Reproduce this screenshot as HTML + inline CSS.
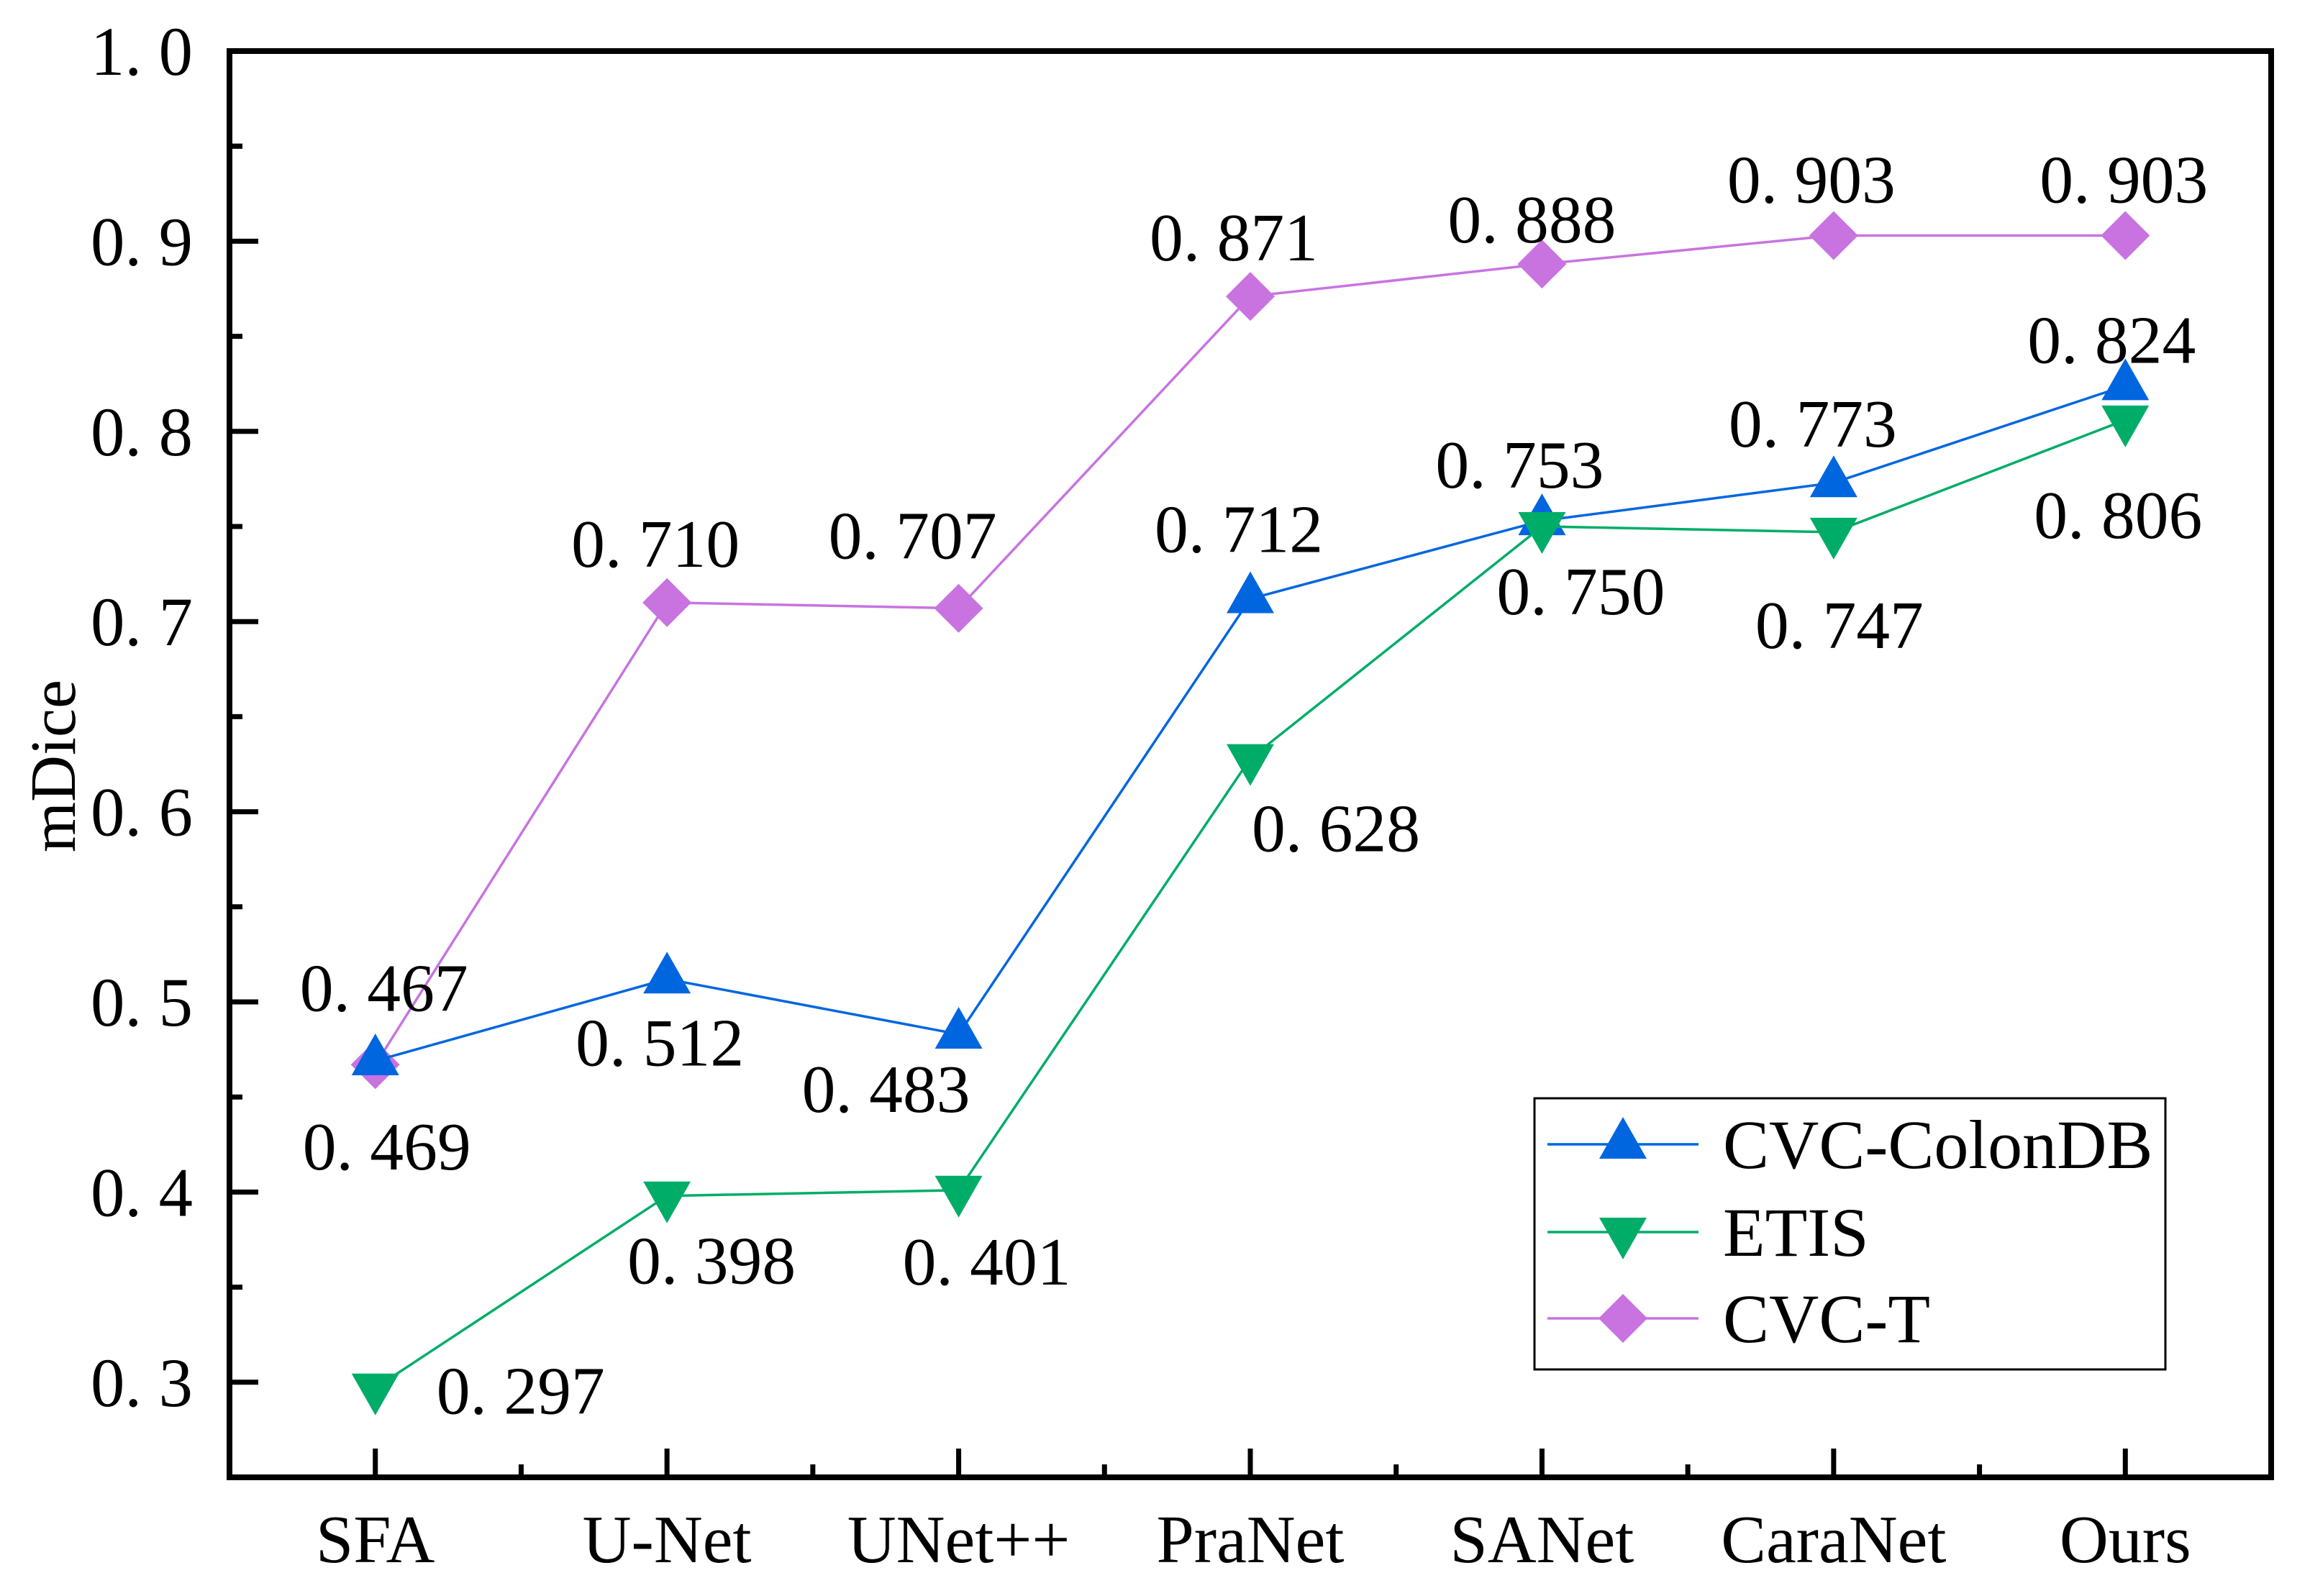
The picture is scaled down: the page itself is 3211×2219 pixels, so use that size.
<!DOCTYPE html>
<html><head><meta charset="utf-8"><style>
html,body{margin:0;padding:0;background:#fff;}
svg{display:block;}
text{font-family:"Liberation Serif","Noto Serif CJK SC",serif;fill:#000;}
</style></head><body>
<svg id="chart" width="3211" height="2219" viewBox="0 0 3211 2219" xmlns="http://www.w3.org/2000/svg">
<g id="plot"></g>
</svg>
<script>
const categories = ["SFA","U-Net","UNet++","PraNet","SANet","CaraNet","Ours"];
const colonDB = [0.469,0.512,0.483,0.712,0.753,0.773,0.824];
const etis = [0.297,0.398,0.401,0.628,0.750,0.747,0.806];
const cvcT = [0.467,0.710,0.707,0.871,0.888,0.903,0.903];
const colonDBLabels = ["0. 469","0. 512","0. 483","0. 712","0. 753","0. 773","0. 824"];
const etisLabels = ["0. 297","0. 398","0. 401","0. 628","0. 750","0. 747","0. 806"];
const cvcTLabels = ["0. 467","0. 710","0. 707","0. 871","0. 888","0. 903","0. 903"];
const yTicks = [0.3,0.4,0.5,0.6,0.7,0.8,0.9,1.0];
const yTickLabels = ["0. 3","0. 4","0. 5","0. 6","0. 7","0. 8","0. 9","1. 0"];

const L=319,R=3157,T=71,B=2054,Y0=0.25,Y1=1.0;
const step=(R-L)/categories.length;
function xPos(i){return L+step*(i+0.5);}
function yPos(v){return B-(v-Y0)/(Y1-Y0)*(B-T);}
const NS="http://www.w3.org/2000/svg";
const g=document.getElementById('plot');
function mk(tag,attrs,parent){const e=document.createElementNS(NS,tag);for(const k in attrs)e.setAttribute(k,attrs[k]);(parent||g).appendChild(e);return e;}

// label offsets (layout only)
const offB=[[16,119],[-10,88],[-101,76],[-16,-97],[-31,-78],[-29,-82],[-19,-64]];
const offE=[[202,4],[62,90],[39,99],[119,97],[54,90],[8,129],[-10,132]];
const offP=[[12,-107],[-16,-82],[-64,-101],[-23,-82],[-14,-62],[-31,-78],[-2,-78]];

function marker(type,cx,cy,color,name){
  let e;
  if(type==='up') e=mk('polygon',{points:`${cx},${cy-38} ${cx-33},${cy+20} ${cx+33},${cy+20}`,fill:color});
  else if(type==='down') e=mk('polygon',{points:`${cx},${cy+38} ${cx-33},${cy-20} ${cx+33},${cy-20}`,fill:color});
  else e=mk('polygon',{points:`${cx},${cy-34} ${cx+34},${cy} ${cx},${cy+34} ${cx-34},${cy}`,fill:color});
  
  
  return e;
}
function series(vals,labels,offs,color,type,key){
  const pts=vals.map((v,i)=>xPos(i)+','+yPos(v)).join(' ');
  const pl=mk('polyline',{points:pts,fill:'none',stroke:color,'stroke-width':3.5});
  
  
  vals.forEach((v,i)=>{marker(type,xPos(i),yPos(v),color,key+'-point-'+i);});
  vals.forEach((v,i)=>{
    const t=mk('text',{x:xPos(i)+offs[i][0],y:yPos(v)+offs[i][1]+32,'text-anchor':'middle','font-size':94,textLength:234,lengthAdjust:'spacingAndGlyphs'});
    t.textContent=labels[i];
    
    
  });
}
series(cvcT,cvcTLabels,offP,'#c873e0','diamond','cvc-t');
series(colonDB,colonDBLabels,offB,'#0066e0','up','cvc-colondb');
series(etis,etisLabels,offE,'#00ad68','down','etis');

// axes frame
const fr=mk('rect',{x:L,y:T,width:R-L,height:B-T,fill:'none',stroke:'#000','stroke-width':8});


// y ticks
yTicks.forEach((v,i)=>{
  const y=yPos(v);
  const tk=mk('line',{x1:L,x2:L+40,y1:y,y2:y,stroke:'#000','stroke-width':7});
  
  
  const m=mk('line',{x1:L,x2:L+18,y1:yPos(v-0.05),y2:yPos(v-0.05),stroke:'#000','stroke-width':7});
  
  
  const t=mk('text',{x:268,y:y+33,'text-anchor':'end','font-size':96,textLength:142,lengthAdjust:'spacingAndGlyphs'});
  t.textContent=yTickLabels[i];
  
  
});
{const m=mk('line',{x1:L,x2:L+18,y1:yPos(0.95),y2:yPos(0.95),stroke:'#000','stroke-width':7});

}
// x ticks
categories.forEach((c,i)=>{
  const x=xPos(i);
  const tk=mk('line',{x1:x,x2:x,y1:B,y2:B-40,stroke:'#000','stroke-width':7});
  
  
  if(i>0){const m=mk('line',{x1:x-step/2,x2:x-step/2,y1:B,y2:B-18,stroke:'#000','stroke-width':7});
  
  }
  const t=mk('text',{x:x,y:2172,'text-anchor':'middle','font-size':94});
  t.textContent=c;
  
  
});
// y title
const yt=mk('text',{x:0,y:0,'text-anchor':'middle','font-size':90,transform:'translate(104,1065) rotate(-90)'});
yt.textContent='mDice';



// legend
const lg=mk('g',{});


const lb=mk('rect',{x:2133,y:1527,width:877,height:377,fill:'#fff',stroke:'#000','stroke-width':3},lg);


const legItems=[['CVC-ColonDB','#0066e0','up',1591],['ETIS','#00ad68','down',1713],['CVC-T','#c873e0','diamond',1833]];
legItems.forEach(it=>{
  const ln=mk('line',{x1:2151,x2:2361,y1:it[3],y2:it[3],stroke:it[1],'stroke-width':3.5});
  
  
  marker(it[2],2256,it[3],it[1],'legend-marker');
  const t=mk('text',{x:2395,y:it[3]+33,'font-size':96});
  t.textContent=it[0];
  
  
});
</script>
</body></html>
